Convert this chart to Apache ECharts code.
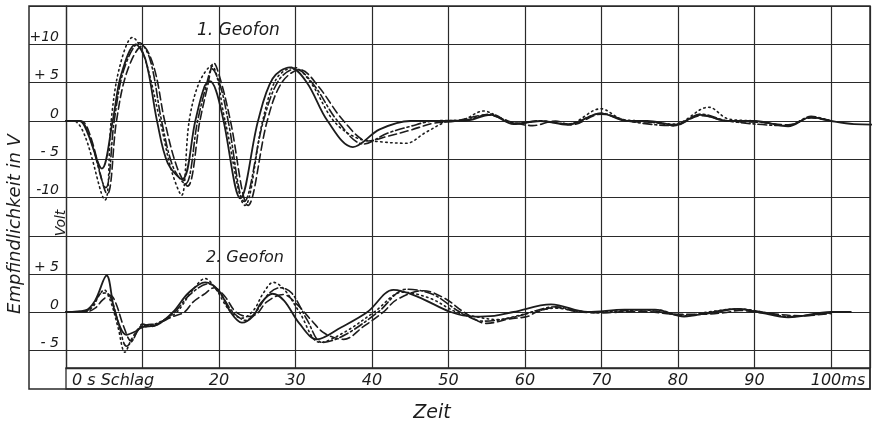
<!DOCTYPE html>
<html lang="de" style="height: 100%">
<head>
    <meta charset="UTF-8">
    <title>Geofon</title>
    <script src="https://cdn.jsdelivr.net/npm/echarts@6/dist/echarts.min.js"></script>
</head>
<body style="height: 100%; margin: 0; background: #fff">
    <div id="chart" style="width: 890px; height: 422px"></div>
    <script>
        // Zeitachse in ms, Spannung in V
        var timeTicks = [0, 10, 20, 30, 40, 50, 60, 70, 80, 90, 100];
        var upperTickLabels = {'10': '+10', '5': '+ 5', '0': '0', '-5': '- 5', '-10': '-10'};
        var lowerTickLabels = {'5': '+ 5', '0': '0', '-5': '- 5'};

        // 1. Geofon
        var geo1Solid = [[0,0],[1.8,0],[2.8,-1.5],[4.7,-6.2],[6.1,0],[7.2,6],[9.1,10],[10.4,8],[11.9,0],[13.3,-5.5],[15.2,-7.6],[16.9,0],[18.1,4.5],[18.8,5.2],[19.6,4],[20.6,0],[22.8,-10.1],[25.1,0],[27,5.5],[29.3,7],[31.5,5],[34.2,0],[37.5,-3.4],[41,-1.1],[45,0],[52,0],[55.5,0.8],[58.5,-0.4],[62,0],[65.6,-0.5],[69.9,1.0],[73.4,0],[76,0],[79.5,-0.5],[83,0.8],[86.5,0],[90,0],[94.4,-0.7],[97.4,0.5],[100,0],[103,-0.4],[108,-0.5]];
        var geo1Dotted = [[0,0],[1,0],[2.5,-2],[5.1,-10.3],[5.9,0],[7,7],[8.7,10.9],[10.2,8.5],[12.3,0],[13.8,-6.5],[15.1,-9.7],[16.1,0],[17.4,5],[19.0,7.2],[20.8,0],[23.4,-11],[25.7,0],[27.5,5.5],[29.8,7],[32,5],[35,0],[38,-2.2],[41,-2.7],[44.5,-2.9],[47,-1.5],[50,0],[52,0.2],[54.6,1.3],[57,0.3],[59,-0.3],[62,0],[65.6,-0.4],[69.9,1.6],[72.5,0.3],[75,0],[79.5,-0.4],[84,1.8],[86.5,0.3],[90,0],[94.4,-0.6],[97.4,0.5],[100,0]];
        var geo1Dashed = [[0,0],[2,0],[3.2,-2],[5.4,-9.5],[6.6,0],[8,6.5],[10,9.8],[11.5,7],[12.9,0],[14.5,-6],[15.9,-8.5],[17.5,0],[18.5,4.5],[19.3,7.6],[20.3,5],[21.5,0],[23.8,-11],[26.3,0],[28.2,5],[30.6,6.7],[33,4.5],[36.3,0],[39.5,-2.6],[42,-2],[45,-1.2],[48,-0.3],[51,0],[55,0.8],[58.5,-0.2],[61,-0.6],[64,0],[66,-0.5],[70,0.9],[73.4,0],[77,-0.2],[79.5,-0.6],[83,0.7],[86.5,0],[91,-0.2],[94.4,-0.5],[97.4,0.4],[100,0]];
        var geo1DashDot = [[0,0],[1.8,0],[3,-1.8],[5.2,-8.7],[6.3,0],[7.6,6.8],[9.6,10.2],[11,8],[12.5,0],[14,-6],[15.6,-8.2],[17.2,0],[18.3,4.5],[19.1,6.8],[20.2,4.5],[21.2,0],[23.3,-10.5],[25.8,0],[27.8,5.3],[30,6.8],[32.4,4.7],[35.5,0],[38.9,-3.0],[42,-1.6],[45,-0.7],[48,0],[52,0.1],[55.5,0.9],[58.5,-0.3],[62,0],[65.6,-0.4],[70,1.0],[73.4,0],[79.5,-0.6],[83,0.9],[86.5,0],[94.4,-0.6],[97.4,0.6],[100,0]];

        // 2. Geofon
        var geo2Solid = [[0,0],[2.5,0.2],[3.8,1.5],[5.3,4.8],[6.4,0],[7.9,-3.0],[9,-2.6],[10,-2.0],[11.9,-1.7],[14,0],[16,2.5],[18.2,3.9],[20,2.8],[21.5,0],[23,-1.4],[24.5,-0.5],[25.5,1.2],[27,2.4],[28.5,1.5],[30.5,-1.5],[32.8,-3.6],[36,-2],[39.4,0],[42.8,2.9],[46,2],[50.3,0],[53.3,-0.6],[56,-0.5],[58.5,0],[63.4,1.0],[68.2,0],[73,0.3],[77,0.3],[80.8,-0.6],[84,-0.1],[87.8,0.4],[90.5,0],[94.4,-0.7],[100,0],[102.6,0]];
        var geo2Dotted = [[0,0],[2.6,0.1],[3.6,0.8],[4.2,2.0],[5.0,2.9],[5.8,1.5],[6.8,-2],[7.7,-5.3],[8.6,-3.5],[9.6,-2.2],[11,-1.8],[12.5,-1.2],[14.5,0],[16.5,2.8],[18.2,4.4],[19.6,3],[21.3,0.3],[23,-0.8],[24.5,0.2],[25.8,2.5],[27.1,3.9],[28.5,3],[30.5,0],[33.2,-4.0],[36.5,-2.6],[40.3,0],[44,2.6],[47.6,1.8],[51,0],[53.5,-0.6],[56.4,-1.0],[59,-0.5],[61,0],[64,0.5],[67,0.1],[70,0],[73,0.2],[77,0.3],[80.8,-0.5],[84,0],[87.8,0.4],[91,0],[94.4,-0.6],[100,-0.1]];
        var geo2Dashed = [[0,0],[2.5,0],[3.8,0.5],[4.8,1.6],[5.8,2.2],[6.5,1.2],[7.5,-1.8],[8.5,-3.8],[9.3,-2.6],[10,-1.6],[11.2,-1.9],[12.5,-1.3],[14,-0.6],[15.5,0],[16.6,1.3],[18,2.3],[19.4,3.2],[20.8,2],[22.2,0],[23.8,-0.6],[25,-0.2],[26.2,1.3],[28.4,2.3],[30.2,1],[32,-1],[33.8,-2.8],[36.3,-3.6],[38.9,-1.9],[41.5,0],[43.2,1.6],[46.7,2.8],[49.5,1.8],[52,0],[55,-1.5],[58,-0.9],[60.3,-0.6],[61.5,0],[64,0.6],[67,0],[70,-0.1],[75,0.1],[80,-0.3],[83,-0.3],[86,-0.1],[88,0.2],[91,-0.1],[96,-0.5],[100,-0.2]];
        var geo2DashDot = [[0,0],[2.5,0.1],[3.6,1],[4.5,2.4],[5.3,2.5],[6,1.5],[7,-2],[7.9,-4.5],[8.8,-3.6],[9.5,-2.1],[10.5,-1.7],[12,-1.5],[14.2,0],[16.2,2.3],[18.6,3.7],[20.3,2.2],[21.8,0],[23.5,-1.1],[24.8,0],[26.5,2.4],[28,3.2],[29.5,2.5],[31.5,-1],[33.5,-4.0],[36.5,-3.0],[40.8,0],[44.5,3.0],[48,2.3],[51.5,0],[54.5,-1.2],[57.5,-0.9],[60,-0.3],[61.5,0.2],[64,0.7],[67,0.1],[70,-0.1],[75,0.3],[80.8,-0.4],[84,-0.2],[87.8,0.4],[91,0],[94.4,-0.6],[100,-0.1]];

        var ink = '#1c1c1c';
        var gridColor = '#2a2a2a';
        var font = 'DejaVu Sans';

        var chart = echarts.init(document.getElementById('chart'), null, {renderer: 'canvas'});

        function timeAxis(gridIndex, withLabels) {
            return {
                type: 'value', gridIndex: gridIndex, min: 0, max: 105.1, interval: 10,
                axisLine: {show: withLabels, lineStyle: {color: gridColor, width: 1.3}},
                axisTick: {show: false},
                splitLine: {show: true, lineStyle: {color: gridColor, width: 1.2}},
                axisLabel: withLabels ? {
                    show: true, margin: 5, color: ink, fontFamily: font, fontStyle: 'italic', fontSize: 16,
                    showMinLabel: true, hideOverlap: false,
                    alignMinLabel: 'left',
                    formatter: function (v) {
                        if (v === 0) return '{s|0 s Schlag}';
                        if (v === 10) return '';
                        if (v === 100) return '{p|}100ms';
                        return String(v);
                    },
                    rich: {s: {padding: [0, 0, 0, 6]}, p: {width: 14}}
                } : {show: false}
            };
        }

        function voltAxis(gridIndex, min, max, labels) {
            return {
                type: 'value', gridIndex: gridIndex, min: min, max: max, interval: 5,
                axisLine: {show: true, lineStyle: {color: gridColor, width: 1.3}},
                axisTick: {show: true, inside: false, length: 37, lineStyle: {color: gridColor, width: 1.2}},
                splitLine: {show: true, showMinLine: true, showMaxLine: true, lineStyle: {color: gridColor, width: 1.2}},
                axisLabel: {
                    show: true, margin: 7, color: ink, fontFamily: font, fontStyle: 'italic', fontSize: 14,
                    verticalAlign: 'bottom',
                    formatter: function (v) { return labels[String(v)] || ''; }
                }
            };
        }

        function curve(data, idx, type) {
            return {
                type: 'line', xAxisIndex: idx, yAxisIndex: idx, data: data,
                symbol: 'none', smooth: 0.35, clip: false, z: 5,
                lineStyle: {color: ink, width: type === 'solid' ? 1.8 : 1.6, type: type, cap: 'round'}
            };
        }

        var option = {
            animation: false,
            backgroundColor: '#fff',
            grid: [
                {left: 66, top: 6, width: 804, height: 230},
                {left: 66, top: 236, width: 804, height: 114},
                {left: 66, top: 350, width: 804, height: 18},
                {left: 66, top: 368, width: 804, height: 21, show: true, borderColor: gridColor, borderWidth: 1.3},
                {left: 29, top: 6, width: 841, height: 383, show: true, borderColor: gridColor, borderWidth: 1.5}
            ],
            xAxis: [
                timeAxis(0, false),
                timeAxis(1, false),
                timeAxis(2, true),
                {type: 'value', gridIndex: 3, show: false},
                {type: 'value', gridIndex: 4, show: false}
            ],
            yAxis: [
                voltAxis(0, -15, 15, upperTickLabels),
                voltAxis(1, -5, 10, lowerTickLabels),
                {type: 'value', gridIndex: 2, min: 0, max: 1, axisLine: {show: true, lineStyle: {color: gridColor, width: 1.3}},
                    axisTick: {show: false}, axisLabel: {show: false}, splitLine: {show: false}},
                {type: 'value', gridIndex: 3, show: false},
                {type: 'value', gridIndex: 4, show: false}
            ],
            graphic: [
                {type: 'text', x: 197, y: 31, style: {text: '1. Geofon', fill: ink, font: 'italic 17px "DejaVu Sans"', textVerticalAlign: 'middle'}},
                {type: 'text', x: 206, y: 258, style: {text: '2. Geofon', fill: ink, font: 'italic 16px "DejaVu Sans"', textVerticalAlign: 'middle'}},
                {type: 'text', x: 61, y: 223, rotation: Math.PI / 2, style: {text: 'Volt', fill: ink, font: 'italic 14px "DejaVu Sans"', textAlign: 'center', textVerticalAlign: 'middle'}},
                {type: 'text', x: 15, y: 224, rotation: Math.PI / 2, style: {text: 'Empfindlichkeit in V', fill: ink, font: 'italic 18px "DejaVu Sans"', textAlign: 'center', textVerticalAlign: 'middle'}},
                {type: 'text', x: 432, y: 413, style: {text: 'Zeit', fill: ink, font: 'italic 19px "DejaVu Sans"', textAlign: 'center', textVerticalAlign: 'middle'}}
            ],
            series: [
                curve(geo1Solid, 0, 'solid'),
                curve(geo1Dotted, 0, [1.5, 3.5]),
                curve(geo1Dashed, 0, [8, 4]),
                curve(geo1DashDot, 0, [9, 3, 2, 3]),
                curve(geo2Solid, 1, 'solid'),
                curve(geo2Dotted, 1, [1.5, 3.5]),
                curve(geo2Dashed, 1, [8, 4]),
                curve(geo2DashDot, 1, [9, 3, 2, 3])
            ]
        };

        chart.setOption(option);
    </script>
</body>
</html>
